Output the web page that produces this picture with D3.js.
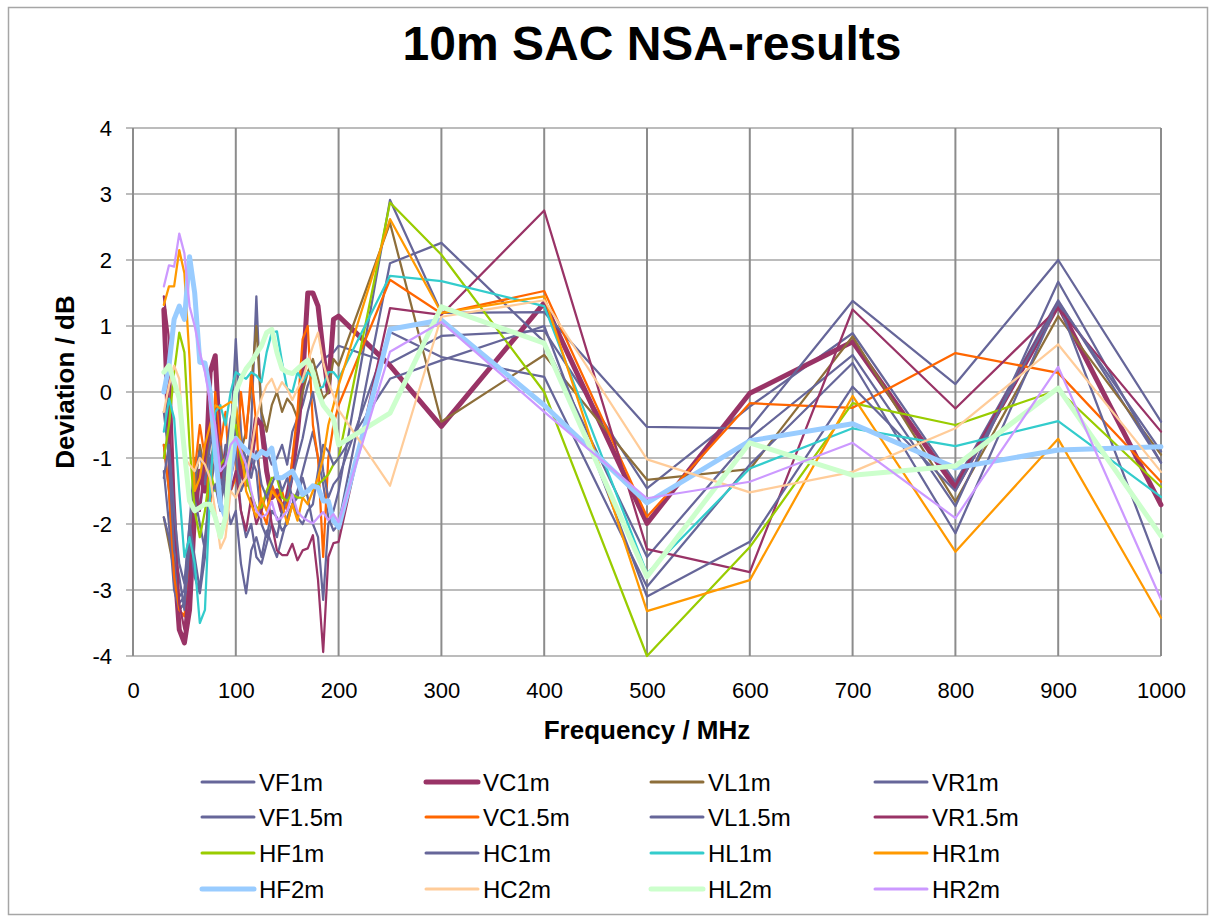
<!DOCTYPE html>
<html>
<head>
<meta charset="utf-8">
<script src="https://d3js.org/d3.v7.min.js"></script>
<style>
  body { margin: 0; background: #fff; }
  svg { display: block; font-family: "Liberation Sans", Arial, sans-serif; }
</style>
</head>
<body>
<div id="chart"></div>
<script>
// frequencies (MHz): 30..200 in 5 MHz steps, then the coarse points
const FREQ = [30,35,40,45,50,55,60,65,70,75,80,85,90,95,100,105,110,115,120,125,130,135,140,145,150,155,160,165,170,175,180,185,190,195,200,
              250,300,400,500,600,700,800,900,1000];

const VF1m  = [-0.8,-1.5,-2.9,-3.1,-3.0,-2.0,-1.0,-1.8,-1.2,-0.6,-1.0,-1.4,-0.8,-1.0,-0.5,-1.5,-1.3,-0.5,1.45,-0.4,-0.9,-1.1,-1.0,-0.8,-1.1,-0.6,-0.4,-0.2,0.1,0.3,0.4,0.5,0.55,0.6,0.7,
               0.44,0.85,0.93,-1.46,-0.22,0.89,-1.37,1.39,-1.07];
const VC1m  = [1.25,-0.7,-2.5,-3.6,-3.8,-3.3,-1.8,-1.2,-1.5,0.3,0.55,-1.0,-1.5,-1.2,-0.8,-1.2,-1.4,-1.0,-0.4,-0.5,-1.2,-1.6,-1.5,-1.8,-1.6,-1.2,-0.6,0.2,1.5,1.5,1.3,0.6,0.0,1.1,1.15,
               0.4,-0.52,1.35,-1.99,-0.02,0.76,-1.45,1.32,-1.71];
const VL1m  = [-1.9,-2.3,-2.7,-3.3,-3.2,-2.5,-1.5,-0.8,-1.2,-0.5,-1.0,-0.8,-1.3,-0.8,-0.3,-0.9,-0.6,0.1,1.0,-0.3,-0.6,-0.2,0.0,-0.3,-0.1,-0.2,-0.4,0.0,0.3,0.5,0.2,-0.1,0.0,0.5,0.4,
               2.56,-0.45,0.56,-1.33,-1.17,0.84,-1.66,1.15,-0.95];
const VR1m  = [-1.9,-2.2,-2.6,-3.2,-3.1,-2.6,-1.6,-2.0,-2.4,-1.5,-1.0,-1.6,-1.2,-0.7,0.8,-0.6,-1.4,-1.0,-1.2,-2.0,-2.2,-1.8,-1.9,-2.1,-2.0,-1.7,-1.6,-1.3,-1.6,-2.0,-2.2,-3.15,-2.0,-1.8,-1.5,
               2.91,1.2,1.21,-0.53,-0.55,1.38,0.12,2.0,-0.45];
const VF15m = [-1.2,-2.0,-3.0,-3.3,-3.2,-2.2,-2.8,-3.05,-2.5,-1.0,-0.8,-1.3,-1.6,-2.0,-1.8,-2.6,-3.05,-2.4,-2.2,-2.5,-2.1,-2.3,-2.5,-2.2,-1.9,-1.7,-1.5,-1.2,-0.9,-0.6,-1.0,-1.4,-1.9,-2.1,-2.0,
               1.95,2.26,0.76,-2.5,-0.7,0.56,-1.73,1.67,-1.07];
const VC15m = [-0.8,-1.5,-2.8,-3.3,-3.4,-2.5,-1.2,-0.5,-1.0,-1.8,0.0,-0.8,-0.3,-1.5,-1.3,0.0,-0.7,0.3,-0.5,-1.8,-2.0,-1.4,-1.6,-1.5,-1.8,-1.0,-0.3,0.8,1.0,-0.5,-1.0,-2.5,-1.0,-0.5,-0.2,
               1.70,1.19,1.53,-1.89,-0.17,-0.24,0.59,0.29,-1.36];
const VL15m = [-0.3,-1.0,-2.4,-2.8,-3.3,-2.4,-1.3,-0.9,-1.4,-0.8,-0.5,-0.9,-1.5,-1.2,-0.9,-1.8,-2.2,-2.0,-2.5,-2.6,-2.3,-2.0,-2.2,-1.8,-1.6,-1.3,-1.0,-0.7,-0.3,0.0,-0.5,-1.2,-1.6,-1.4,-1.3,
               0.91,0.53,0.23,-2.95,-1.1,0.44,-2.14,1.36,-2.74];
const VR15m = [1.45,0.8,-1.5,-3.2,-3.6,-2.8,-1.5,-1.8,-1.0,-0.5,-0.2,-1.3,-0.9,-1.5,-1.2,-1.8,-2.1,-1.6,-2.0,-1.8,-1.5,-2.0,-2.4,-2.47,-2.47,-2.3,-2.55,-2.4,-2.37,-2.17,-2.85,-3.94,-2.5,-2.29,-2.27,
               1.27,1.17,2.75,-2.38,-2.73,1.25,-0.25,1.27,-0.6];
const HF1m  = [-1.0,-0.5,0.3,0.9,0.6,-0.8,-1.8,-2.2,-1.8,-1.2,-1.5,-1.1,-1.0,-0.6,-0.5,-1.0,-1.3,-1.55,-1.75,-1.75,-1.5,-1.3,-1.3,-1.6,-1.65,-1.55,-1.6,-1.6,-1.5,-1.45,-1.4,-1.33,-1.25,-1.1,-1.0,
               2.87,2.08,0.0,-4.0,-2.35,-0.17,-0.5,0.03,-1.44];
const HC1m  = [-1.3,-0.8,-1.8,-2.6,-2.9,-2.0,-2.5,-3.0,-2.2,-1.6,-1.4,-1.8,-1.0,-0.4,-0.2,-0.8,-1.0,-1.3,-0.9,-1.4,-1.6,-1.4,-1.2,-1.5,-1.3,-1.6,-1.9,-2.0,-1.8,-1.7,-1.2,-0.8,-0.9,-1.1,-1.0,
               0.2,0.48,1.0,-3.1,-2.27,0.08,-1.5,1.36,-0.9];
const HL1m  = [-0.6,-0.1,-0.4,-1.5,-2.5,-2.2,-2.6,-3.5,-3.3,-1.5,-0.3,-0.2,-0.5,0.0,0.3,0.25,0.2,0.3,0.25,0.15,0.6,0.9,0.92,0.45,0.05,0.0,0.3,0.15,0.3,0.23,0.05,0.08,0.3,0.3,0.2,
               1.76,1.68,1.3,-2.75,-1.16,-0.55,-0.82,-0.44,-1.59];
const HR1m  = [1.32,1.6,1.6,2.15,1.8,0.5,-1.5,-1.3,-0.8,-0.5,-0.2,-0.25,-0.2,-0.15,-0.2,-0.8,-1.5,-1.7,-1.9,-1.6,-1.8,-1.5,-1.6,-1.7,-2.0,-1.7,-1.95,-1.6,-1.7,-1.5,-1.3,-1.0,-0.5,-0.2,0.1,
               2.62,1.2,1.45,-3.32,-2.85,-0.06,-2.42,-0.71,-3.42];
const HF2m  = [0.0,0.4,1.1,1.3,1.1,2.05,1.5,0.45,0.44,0.0,-0.9,-1.7,-1.9,-1.2,-0.7,-0.8,-0.88,-0.95,-1.0,-0.9,-0.95,-0.85,-1.3,-1.3,-1.25,-1.2,-1.35,-1.55,-1.5,-1.42,-1.45,-1.65,-1.65,-1.95,-2.05,
               0.95,1.09,-0.2,-1.68,-0.74,-0.48,-1.15,-0.88,-0.83];
const HC2m  = [-0.3,0.1,0.4,0.2,-1.0,-1.1,-1.2,-1.0,-1.1,-1.3,-1.8,-2.37,-2.2,-1.5,-1.6,-1.4,-1.3,-0.9,-0.4,-0.1,0.1,0.2,0.0,0.15,0.05,-0.12,0.05,0.2,0.45,0.7,0.9,0.45,0.15,-0.05,-0.27,
               -1.42,1.14,1.39,-1.02,-1.52,-1.21,-0.55,0.72,-1.21];
const HL2m  = [0.3,0.4,0.15,-0.1,-0.9,-1.65,-1.8,-1.75,-1.7,-1.7,-1.9,-2.2,-1.9,-0.8,0.0,0.2,0.35,0.45,0.58,0.7,0.9,0.95,0.6,0.35,0.3,0.28,0.35,0.42,0.48,0.3,0.0,-0.2,-0.3,-0.4,-0.8,
               -0.32,1.29,0.74,-2.8,-0.77,-1.26,-1.12,0.06,-2.18];
const HR2m  = [1.6,1.92,1.9,2.4,2.1,1.3,1.0,0.6,0.3,-0.15,-0.5,-1.2,-1.1,-0.8,-0.7,-0.9,-1.1,-1.5,-1.8,-1.9,-1.85,-1.66,-1.94,-1.9,-1.8,-1.55,-1.81,-1.9,-1.95,-1.99,-1.9,-1.82,-1.94,-1.85,-1.97,
               0.61,1.06,-0.3,-1.61,-1.36,-0.77,-1.91,0.38,-3.14];

const NAMES = ["VF1m","VC1m","VL1m","VR1m","VF1.5m","VC1.5m","VL1.5m","VR1.5m",
               "HF1m","HC1m","HL1m","HR1m","HF2m","HC2m","HL2m","HR2m"];
const VALUES = [VF1m,VC1m,VL1m,VR1m,VF15m,VC15m,VL15m,VR15m,HF1m,HC1m,HL1m,HR1m,HF2m,HC2m,HL2m,HR2m];

const X_TICKS = [0,100,200,300,400,500,600,700,800,900,1000];
const Y_TICKS = [-4,-3,-2,-1,0,1,2,3,4];

// styling
const COLORS = ["#666699","#993366","#8d6e3a","#666699","#666699","#ff6600","#666699","#993366",
                "#99cc00","#666699","#33cccc","#ff9900","#99ccff","#ffcc99","#ccffcc","#cc99ff"];
const THICK = {"VC1m": 5, "HF2m": 5, "HL2m": 5};

const series = NAMES.map((name, i) => ({
    name: name,
    points: FREQ.map((f, j) => ({f: f, v: VALUES[i][j]})),
    color: COLORS[i],
    width: THICK[name] || 2.25
}));

const W = 1215, H = 922;
const PLOT = {left: 133, right: 1161, top: 128, bottom: 656};

const svg = d3.select("#chart").append("svg")
    .attr("width", W)
    .attr("height", H);

svg.append("rect")
    .attr("x", 8.5).attr("y", 7.5)
    .attr("width", 1199).attr("height", 907)
    .attr("fill", "#fff")
    .attr("stroke", "#a6a6a6")
    .attr("stroke-width", 1.5);

const x = d3.scaleLinear().domain([0, 1000]).range([PLOT.left, PLOT.right]);
const y = d3.scaleLinear().domain([-4, 4]).range([PLOT.bottom, PLOT.top]);

// horizontal grid
svg.append("g")
    .selectAll("line")
    .data(Y_TICKS)
    .enter()
    .append("line")
    .attr("x1", PLOT.left - 7)
    .attr("x2", PLOT.right)
    .attr("y1", d => y(d))
    .attr("y2", d => y(d))
    .attr("stroke", "#a6a6a6")
    .attr("stroke-width", 1.5);

// vertical grid
svg.append("g")
    .selectAll("line")
    .data(X_TICKS)
    .enter()
    .append("line")
    .attr("x1", d => x(d))
    .attr("x2", d => x(d))
    .attr("y1", PLOT.top)
    .attr("y2", PLOT.bottom)
    .attr("stroke", "#8c8c8c")
    .attr("stroke-width", 2);

// axes (labels only), plain hyphen minus like the original
const fmt = d => String(d);

const xAxis = svg.append("g")
    .attr("transform", "translate(0," + PLOT.bottom + ")")
    .call(d3.axisBottom(x).tickValues(X_TICKS).tickSize(0).tickPadding(26).tickFormat(fmt));
xAxis.select(".domain").remove();
xAxis.selectAll("text").attr("font-size", 22).attr("fill", "#000").attr("font-family", "Liberation Sans, Arial, sans-serif");

const yAxis = svg.append("g")
    .attr("transform", "translate(" + PLOT.left + ",0)")
    .call(d3.axisLeft(y).tickValues(Y_TICKS).tickSize(0).tickPadding(21).tickFormat(fmt));
yAxis.select(".domain").remove();
yAxis.selectAll("text").attr("font-size", 22).attr("fill", "#000").attr("font-family", "Liberation Sans, Arial, sans-serif");

// series lines
const line = d3.line()
    .x(d => x(d.f))
    .y(d => y(d.v));

svg.append("g")
    .selectAll("path")
    .data(series)
    .enter()
    .append("path")
    .attr("d", d => line(d.points))
    .attr("fill", "none")
    .attr("stroke", d => d.color)
    .attr("stroke-width", d => d.width)
    .attr("stroke-linejoin", "round")
    .attr("stroke-linecap", "round");

// titles
svg.append("text")
    .attr("x", 652).attr("y", 60)
    .attr("text-anchor", "middle")
    .attr("font-size", 48)
    .attr("font-weight", "bold")
    .text("10m SAC NSA-results");

svg.append("text")
    .attr("x", 647).attr("y", 739)
    .attr("text-anchor", "middle")
    .attr("font-size", 26)
    .attr("font-weight", "bold")
    .text("Frequency / MHz");

svg.append("text")
    .attr("transform", "translate(74,382) rotate(-90)")
    .attr("text-anchor", "middle")
    .attr("font-size", 26)
    .attr("font-weight", "bold")
    .text("Deviation / dB");

// legend
const LEG_X = [202, 426, 651, 875];
const LEG_Y = [782, 817, 853, 889];
const leg = svg.append("g")
    .selectAll("g")
    .data(series)
    .enter()
    .append("g")
    .attr("transform", (d, i) => "translate(" + LEG_X[i % 4] + "," + LEG_Y[Math.floor(i / 4)] + ")");

leg.append("line")
    .attr("x1", 0).attr("x2", 52)
    .attr("y1", 0).attr("y2", 0)
    .attr("stroke", d => d.color)
    .attr("stroke-width", d => d.width > 3 ? 5 : 3)
    .attr("stroke-linecap", "round");

leg.append("text")
    .attr("x", 57)
    .attr("y", 9)
    .attr("font-size", 24)
    .text(d => d.name);
</script>
</body>
</html>
